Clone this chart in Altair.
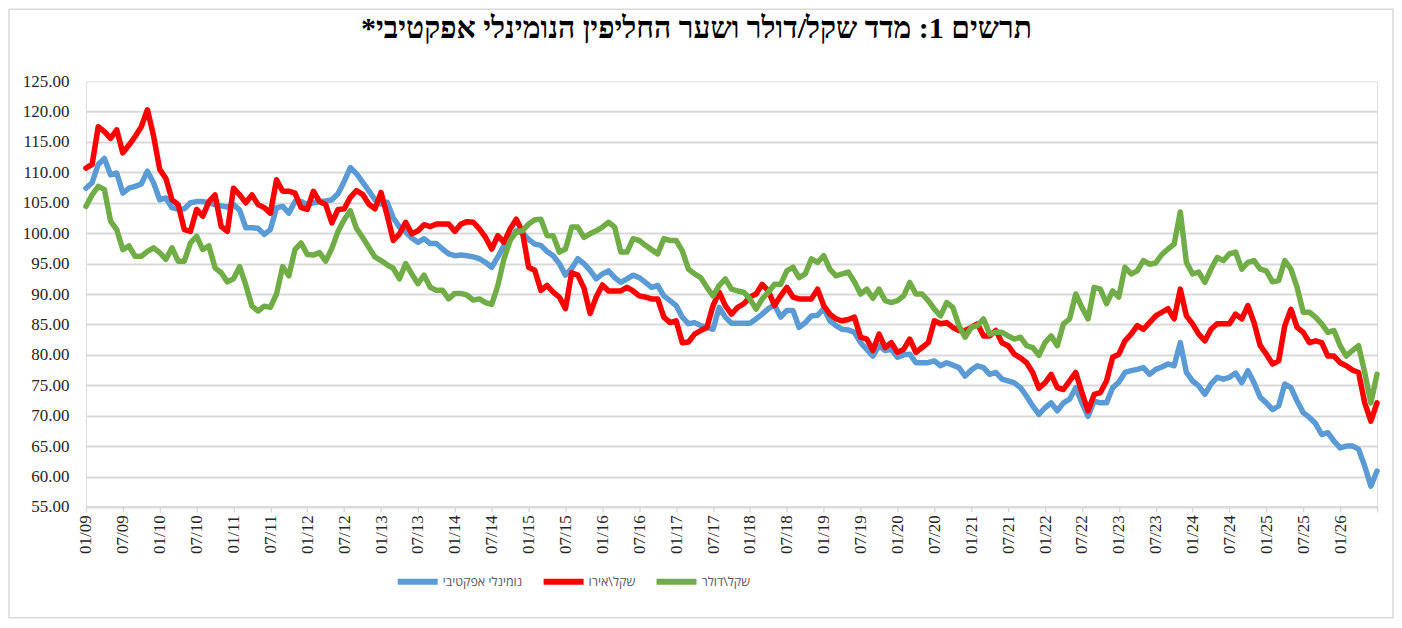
import altair as alt
import pandas as pd

# ---- categories (monthly, 01/09 .. 07/26) ----
years = list(range(2009, 2027))
months = [f"{m:02d}/{y % 100:02d}" for y in years for m in range(1, 13)][:211]
tick_labels = months[::6]
y_ticks = [55, 60, 65, 70, 75, 80, 85, 90, 95, 100, 105, 110, 115, 120, 125]

# ---- series values (one row per year) ----
blue = [
    107.4, 108.3, 111.3, 112.3, 109.6, 109.9, 106.6, 107.4, 107.7, 108.1, 110.2, 108.3,
    105.5, 105.8, 104.2, 103.9, 104.0, 105.0, 105.2, 105.2, 105.0, 104.7, 104.5, 104.3,
    104.7, 103.8, 100.9, 100.9, 100.8, 99.8, 100.6, 104.2, 104.4, 103.3, 105.2, 105.2,
    104.7, 105.0, 105.2, 105.3, 105.5, 106.5, 108.5, 110.8, 109.8, 108.4, 107.0, 105.5,
    104.8, 105.1, 102.5, 101.0, 100.2, 99.2, 98.5, 99.1, 98.3, 98.3, 97.4, 96.6,
    96.3, 96.4, 96.3, 96.1, 95.8, 95.2, 94.4, 96.1, 98.0, 99.1, 100.4, 100.0,
    99.0, 98.2, 98.0, 97.0, 96.3, 95.0, 93.1, 94.2, 95.8, 95.0, 93.9, 92.5,
    93.3, 93.8, 92.7, 91.9, 92.5, 93.1, 92.7, 91.9, 91.1, 91.4, 89.7, 88.9,
    88.1, 86.2, 85.1, 85.3, 84.8, 84.5, 84.2, 87.8, 86.2, 85.2, 85.2, 85.2,
    85.2, 85.9, 86.7, 87.6, 88.2, 86.2, 87.3, 87.3, 84.5, 85.3, 86.4, 86.5,
    87.6, 85.6, 84.8, 84.2, 84.1, 83.7, 82.0, 80.9, 79.8, 81.5, 80.7, 80.9,
    79.6, 80.0, 80.1, 78.7, 78.7, 78.7, 79.0, 78.2, 78.7, 78.3, 77.9, 76.5,
    77.5, 78.2, 77.9, 76.8, 77.1, 76.0, 75.7, 75.4, 74.6, 73.2, 71.6, 70.2,
    71.3, 72.1, 70.8, 72.1, 72.7, 74.6, 72.1, 69.9, 72.4, 72.1, 72.1, 74.6,
    75.5, 77.1, 77.4, 77.6, 77.9, 76.8, 77.6, 78.0, 78.5, 78.2, 82.0, 77.1,
    75.7, 74.9, 73.5, 75.2, 76.3, 76.0, 76.3, 77.0, 75.4, 77.4, 75.4, 73.0,
    72.1, 71.0, 71.6, 75.2, 74.6, 72.4, 70.5, 69.7, 68.7, 66.9, 67.2, 65.8,
    64.7, 65.0, 65.0, 64.5, 61.7, 58.4, 60.9,
]
red = [
    110.7, 111.3, 117.5, 116.7, 115.6, 117.0, 113.2, 114.5, 115.9, 117.5, 120.3, 116.0,
    110.5, 109.0, 105.5, 104.7, 100.6, 100.3, 103.9, 102.8, 105.2, 106.3, 101.1, 100.3,
    107.4, 106.3, 105.0, 106.3, 104.7, 104.2, 103.3, 108.8, 106.9, 106.9, 106.6, 104.2,
    103.9, 106.9, 105.2, 104.7, 101.7, 103.9, 104.0, 105.9, 107.0, 106.4, 104.8, 104.0,
    106.7, 102.9, 98.8, 99.9, 101.8, 99.9, 100.4, 101.4, 101.1, 101.5, 101.5, 101.5,
    100.3, 101.5, 101.9, 101.8, 100.7, 99.3, 97.4, 99.6, 98.5, 100.7, 102.3, 100.2,
    94.4, 93.9, 90.6, 91.4, 90.3, 89.5, 87.6, 93.5, 93.1, 91.0, 86.8, 89.5,
    91.5, 90.5, 90.5, 90.5, 91.1, 90.5, 89.7, 89.5, 89.2, 89.2, 86.2, 85.3,
    85.6, 82.0, 82.1, 83.4, 84.0, 84.5, 88.1, 90.3, 88.1, 86.7, 87.8, 88.4,
    89.5, 90.0, 91.6, 90.5, 88.1, 89.7, 91.1, 89.5, 89.2, 89.2, 89.2, 90.8,
    88.1, 86.7, 85.9, 85.6, 85.8, 86.2, 82.9, 82.6, 80.7, 83.4, 81.2, 82.0,
    80.4, 80.9, 82.6, 80.4, 81.2, 82.0, 85.6, 85.1, 85.3, 84.5, 84.0, 84.0,
    84.5, 85.1, 83.1, 83.1, 84.0, 82.0, 81.5, 80.1, 79.5, 78.7, 77.1, 74.5,
    75.4, 76.8, 74.6, 74.3, 75.7, 77.1, 73.8, 70.8, 73.5, 73.8, 75.7, 79.6,
    80.1, 82.3, 83.4, 84.8, 84.2, 85.3, 86.4, 87.0, 87.6, 85.9, 90.8, 86.4,
    85.1, 83.4, 82.3, 84.2, 85.1, 85.1, 85.1, 86.7, 85.9, 88.1, 85.3, 81.5,
    80.1, 78.5, 79.0, 84.8, 87.5, 84.5, 83.7, 82.0, 82.3, 82.0, 79.8, 79.8,
    78.7, 78.2, 77.5, 77.1, 72.1, 69.1, 72.1,
]
green = [
    104.4, 106.3, 107.7, 107.2, 102.0, 100.6, 97.3, 97.9, 96.2, 96.2, 97.0, 97.6,
    96.8, 95.7, 97.6, 95.4, 95.4, 98.4, 99.5, 97.3, 97.9, 94.3, 93.5, 92.0,
    92.5, 94.5, 91.5, 88.0, 87.2, 88.0, 87.8, 90.0, 94.5, 93.0, 97.3, 98.4,
    96.5, 96.4, 96.8, 95.4, 97.5, 100.3, 102.2, 103.7, 100.8, 99.3, 97.7, 96.1,
    95.5, 94.8, 94.2, 92.5, 95.0, 93.3, 91.7, 93.1, 91.1, 90.6, 90.6, 89.2,
    90.1, 90.1, 89.8, 89.0, 89.2, 88.6, 88.3, 91.4, 95.8, 98.8, 100.2, 100.4,
    101.5, 102.2, 102.3, 99.6, 99.6, 96.9, 97.4, 101.0, 101.0, 99.3, 99.9, 100.4,
    101.0, 101.8, 101.0, 96.9, 96.9, 99.1, 98.8, 98.0, 97.3, 96.6, 99.1, 98.8,
    98.8, 97.1, 94.1, 93.3, 92.7, 91.1, 89.7, 91.4, 92.5, 90.8, 90.5, 90.3,
    89.2, 87.5, 89.2, 90.3, 91.6, 91.6, 93.8, 94.4, 92.7, 93.3, 95.8, 95.2,
    96.3, 94.1, 93.0, 93.3, 93.6, 92.0, 90.0, 90.8, 89.3, 90.8, 88.9, 88.6,
    88.9, 89.7, 91.9, 90.0, 90.0, 88.9, 87.5, 86.4, 88.6, 87.8, 84.8, 82.9,
    84.5, 84.8, 85.9, 83.4, 83.7, 83.7, 83.1, 82.6, 82.9, 81.5, 81.2, 79.9,
    82.0, 83.1, 81.5, 85.1, 85.9, 90.0, 87.8, 85.9, 91.1, 90.8, 88.4, 90.5,
    89.5, 94.4, 93.3, 93.8, 95.5, 94.9, 95.1, 96.5, 97.4, 98.2, 103.5, 95.2,
    93.3, 93.6, 91.9, 94.1, 96.0, 95.5, 96.6, 96.9, 94.1, 95.2, 95.5, 94.1,
    93.8, 92.0, 92.2, 95.5, 94.1, 91.1, 87.0, 87.0, 86.2, 85.1, 83.7, 84.0,
    81.5, 79.8, 80.7, 81.5, 77.1, 72.1, 76.8,
]

series_names = ["נומינלי אפקטיבי", "שקל\\אירו", "שקל\\דולר"]
series_colors = ["#5B9BD5", "#FF0000", "#70AD47"]
title_text = "תרשים 1: מדד שקל/דולר ושער החליפין הנומינלי אפקטיבי*\u200f"
last_label = months[-1]

rows = []
for name, vals in zip(series_names, [blue, red, green]):
    for m, v in zip(months, vals):
        rows.append({"month": m, "value": v, "series": name})
df = pd.DataFrame(rows)

W, H = 1292, 426
PAD = {"left": 78, "top": 73, "right": 17, "bottom": 113}
HEB_SANS = "Open Sans, Liberation Sans, DejaVu Sans"

lines = alt.Chart(df).mark_line(strokeWidth=5.5, strokeJoin="round", strokeCap="round").encode(
    x=alt.X(
        "month:O",
        sort=months,
        scale=alt.Scale(type="point", padding=0, domain=months),
        axis=alt.Axis(
            values=tick_labels, labelAngle=270, title=None,
            labelExpr=f"datum.value == '{last_label}' ? '' : datum.label",
            labelFont="Liberation Serif", labelFontSize=17, labelColor="#262626",
            domainColor="#d9d9d9", domainWidth=2, tickColor="#d9d9d9",
            tickSize=5, tickWidth=1.5, labelPadding=3, grid=False,
        ),
    ),
    y=alt.Y(
        "value:Q",
        scale=alt.Scale(domain=[55, 125], nice=False, zero=False),
        axis=alt.Axis(
            values=y_ticks, format=".2f", title=None,
            labelFont="Liberation Serif", labelFontSize=17, labelColor="#262626",
            labelPadding=17, domain=False, ticks=False,
            gridColor="#d9d9d9", gridWidth=2,
            gridOpacity={"condition": {"test": "datum.value == 125", "value": 0}, "value": 1},
        ),
    ),
    color=alt.Color(
        "series:N",
        scale=alt.Scale(domain=series_names, range=series_colors),
        legend=alt.Legend(
            title=None, orient="none", legendX=309, legendY=478,
            direction="horizontal", columns=3,
            symbolType="stroke", symbolSize=1600, symbolStrokeWidth=6,
            labelFont=HEB_SANS, labelFontSize=12.5, labelColor="#595959",
            columnPadding=9, labelOffset=2, labelLimit=300,
        ),
    ),
)

border = alt.Chart(pd.DataFrame({"k": [0]})).mark_rect(
    fillOpacity=0, stroke="#d9d9d9", strokeWidth=1.5
).encode(
    x=alt.value(-77), x2=alt.value(W + 16), y=alt.value(-72), y2=alt.value(H + 111)
)

title = alt.Chart(pd.DataFrame({"t": [title_text]})).mark_text(
    font="Liberation Serif", fontSize=30, fontWeight="bold", color="black",
    align="center", baseline="middle",
).encode(
    text="t:N", x=alt.value(W / 2 - 35), y=alt.value(-52)
)

chart = alt.layer(border, lines, title).properties(
    width=W,
    height=H,
    padding=PAD,
    autosize=alt.AutoSizeParams(type="none"),
).configure_view(
    fill="#e7e7e7", strokeWidth=0
).configure(background="white")

chart.save("out.html", embed_options={"renderer": "svg", "actions": False})
